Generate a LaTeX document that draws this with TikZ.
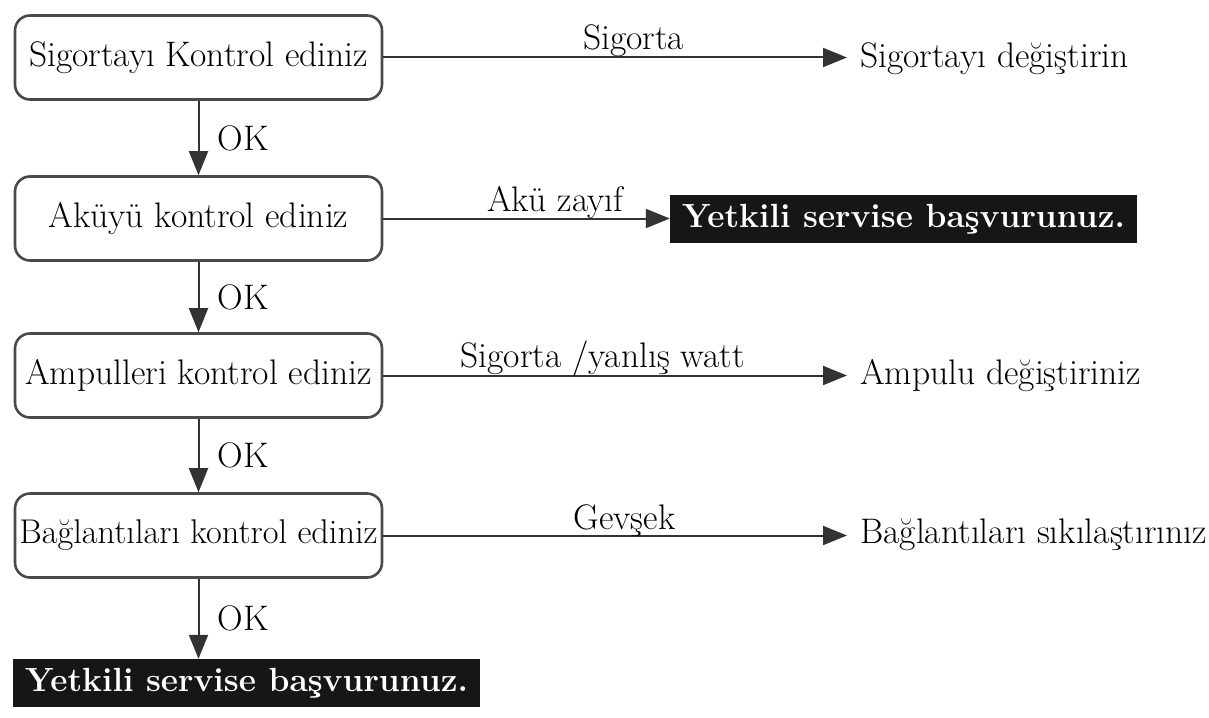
\documentclass[tikz,border=0pt]{standalone}
\usepackage{fontspec}
\usetikzlibrary{arrows.meta}
\definecolor{linec}{HTML}{333333}
\definecolor{boxc}{HTML}{4A4A4A}
\definecolor{blk}{HTML}{161616}
\newcommand{\regfont}{\fontsize{35.5}{40}\selectfont}
\tikzset{
  stepbox/.style={draw=boxc, line width=2.6pt, rounded corners=15pt, minimum width=367pt, minimum height=84pt, inner sep=0pt, font=\regfont},
  blackbox/.style={fill=blk, text=white, minimum width=467pt, minimum height=48pt, inner sep=0pt, font=\fontsize{33.5}{38}\selectfont\bfseries},
  target/.style={anchor=base west, inner sep=0pt, font=\regfont},
  conn/.style={draw=linec, line width=2pt, -{Triangle[length=24pt,width=19pt]}},
  elabel/.style={anchor=base, inner sep=0pt, font=\regfont},
  oklabel/.style={right=18pt, inner sep=0pt, font=\regfont},
}
\begin{document}
\begin{tikzpicture}[x=1pt,y=-1pt]
\useasboundingbox (0,0) rectangle (1209,717);
% boxes
\node[stepbox] (b1) at (198.5,57.5) {Sigortayı Kontrol ediniz};
\node[stepbox] (b2) at (198.5,218.5) {Aküyü kontrol ediniz};
\node[stepbox] (b3) at (198.5,375.5) {Ampulleri kontrol ediniz};
\node[stepbox, font=\fontsize{34.3}{40}\selectfont] (b4) at (198.5,535.5) {Bağlantıları kontrol ediniz};
\node[blackbox] (k2) at (246.5,683) {Yetkili servise başvurunuz.};
\node[blackbox] (k1) at (903.5,219) {Yetkili servise başvurunuz.};
% targets
\node[target] (t1) at (860,67) {Sigortayı değiştirin};
\node[target] (t3) at (860,384) {Ampulu değiştiriniz};
\node[target] (t4) at (860,543) {Bağlantıları sıkılaştırınız};
\coordinate (e1) at (847,57.5);
\coordinate (e3) at (847,375.5);
\coordinate (e4) at (847,535.5);
% horizontal connectors
\draw[conn] (b1.east) -- (e1) node[elabel, pos=0.54, yshift=8pt] {Sigorta};
\draw[conn] (b2.east) -- (k1.west |- b2.east) node[elabel, pos=0.60, yshift=7pt] {Akü zayıf};
\draw[conn] (b3.east) -- (e3) node[elabel, pos=0.473, yshift=8pt] {Sigorta /yanlış watt};
\draw[conn] (b4.east) -- (e4) node[elabel, pos=0.52, yshift=6pt] {Gevşek};
% vertical connectors
\draw[conn] (b1.south) -- (b2.north) node[midway, oklabel] {OK};
\draw[conn] (b2.south) -- (b3.north) node[midway, oklabel] {OK};
\draw[conn] (b3.south) -- (b4.north) node[midway, oklabel] {OK};
\draw[conn] (b4.south) -- (b4.south |- k2.north) node[midway, oklabel] {OK};
\end{tikzpicture}
\end{document}
